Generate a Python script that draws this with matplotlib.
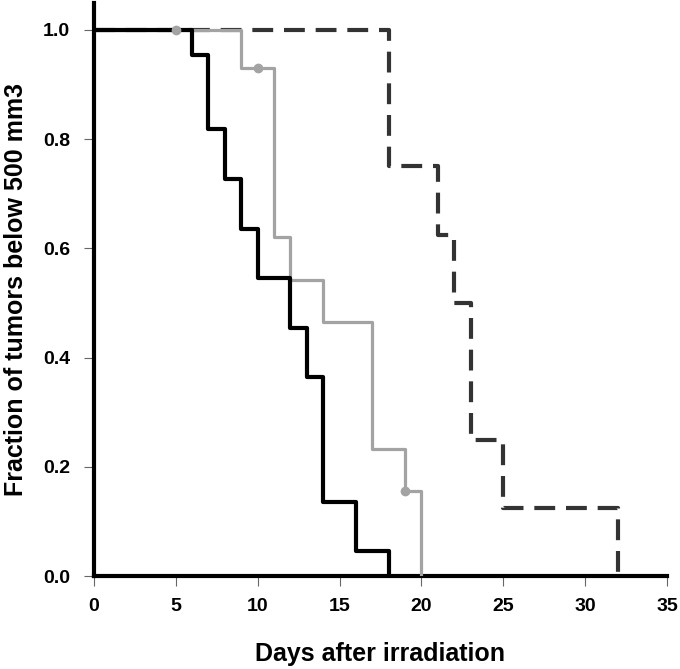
"""Kaplan-Meier style plot: fraction of tumors below 500 mm3 vs days after irradiation."""
import numpy as np
import matplotlib
matplotlib.use("Agg")
import matplotlib.pyplot as plt

plt.rcParams["font.family"] = ["Liberation Sans", "DejaVu Sans"]

# step curves (days where the fraction changes, fraction after the step)
black_days = [0, 6, 7, 8, 9, 10, 12, 13, 14, 16, 18]
black_frac = [1.0, 0.955, 0.818, 0.727, 0.636, 0.545, 0.455, 0.364, 0.136, 0.045, 0.0]

gray_days = [0, 9, 11, 12, 14, 17, 19, 20]
gray_frac = [1.0, 0.93, 0.62, 0.543, 0.465, 0.233, 0.155, 0.0]
gray_cens_days = [5, 10, 19]
gray_cens_frac = [1.0, 0.93, 0.155]

dash_days = [0, 18, 21, 22, 23, 25, 32]
dash_frac = [1.0, 0.75, 0.625, 0.5, 0.25, 0.125, 0.0]

x_ticks = [0, 5, 10, 15, 20, 25, 30, 35]
y_ticks = [0.0, 0.2, 0.4, 0.6, 0.8, 1.0]

fig = plt.figure(figsize=(6.8, 6.69), dpi=100)
ax = fig.add_axes([0.138, 0.139, 0.843, 0.857])

ax.step(dash_days, dash_frac, where="post", color="#333333", lw=3,
        dashes=(5, 2.6), zorder=2)
ax.step(gray_days, gray_frac, where="post", color="#a3a3a3", lw=2.3, zorder=3)
ax.plot(gray_cens_days, gray_cens_frac, "o", color="#a3a3a3", ms=6, zorder=4)
ax.step(black_days, black_frac, where="post", color="black", lw=3, zorder=3)

ax.set_xlim(0, 35)
ax.set_ylim(0, 1.05)
ax.set_xticks(x_ticks)
ax.set_yticks(y_ticks)
ax.set_yticklabels([f"{v:.1f}" for v in y_ticks])
ax.tick_params(direction="out", length=7, width=0.8, color="#666666", labelsize=14)
ax.tick_params(axis="x", pad=9)
ax.tick_params(axis="y", pad=10)
for lab in ax.get_xticklabels() + ax.get_yticklabels():
    lab.set_fontweight("bold")

for s in ["top", "right"]:
    ax.spines[s].set_visible(False)
for s in ["left", "bottom"]:
    ax.spines[s].set_linewidth(3)

ax.set_xlabel("Days after irradiation", fontsize=18, fontweight="bold", labelpad=19)
ax.set_ylabel("Fraction of tumors below 500 mm3", fontsize=18, fontweight="bold", labelpad=11)

fig.savefig("out.png", dpi=100)
